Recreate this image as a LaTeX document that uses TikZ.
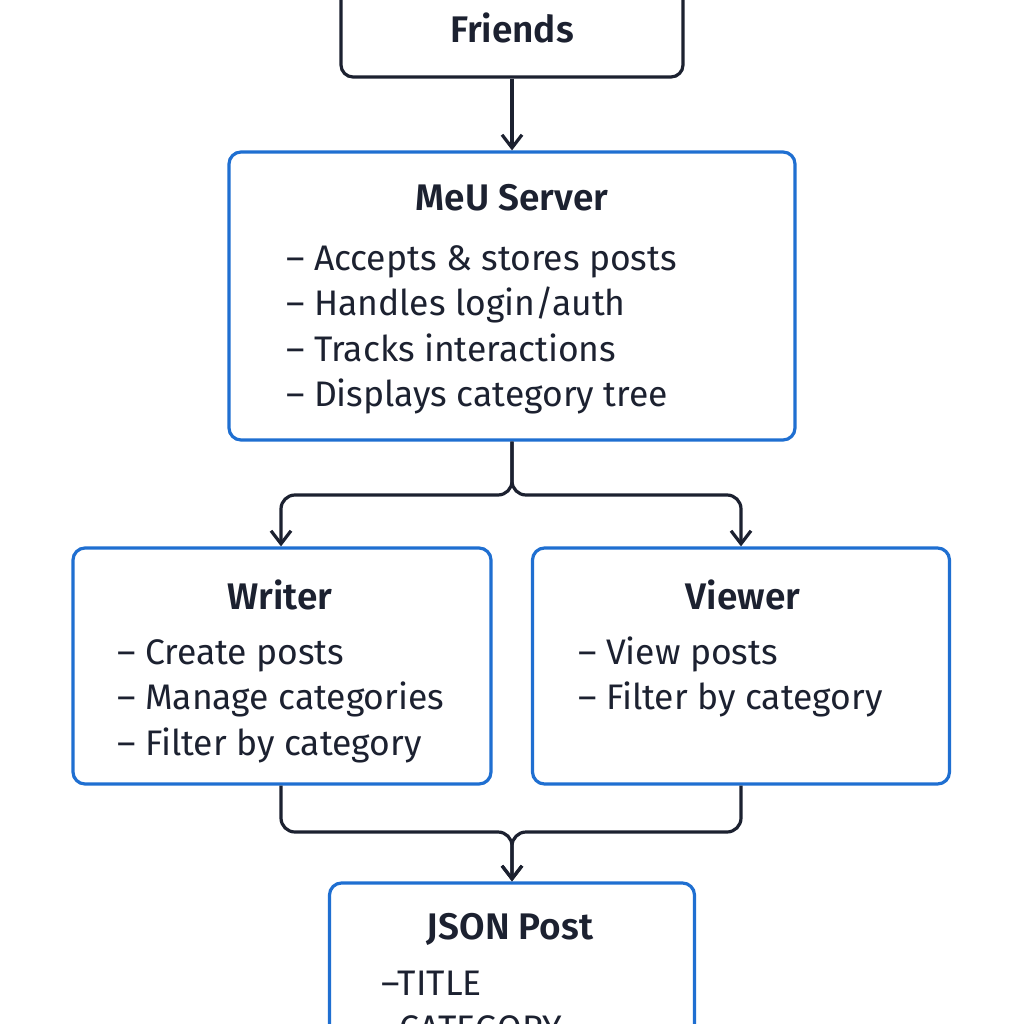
\documentclass[tikz,border=0pt]{standalone}
\usepackage{fontspec}
\setmainfont{Fira Sans}[BoldFont={* SemiBold}]
\usetikzlibrary{arrows.meta,positioning}
\definecolor{boxblue}{HTML}{1F6FD1}
\definecolor{ink}{HTML}{1C2130}
\tikzstyle{line} = [draw=ink, line width=3.2pt, rounded corners=14pt, -{Straight Barb[length=13pt,width=20pt,line width=3.2pt]}]
\tikzstyle{block} = [draw=boxblue, line width=3.2pt, rectangle, rounded corners=12pt, fill=white]
\tikzstyle{plain} = [draw=ink, line width=3.2pt, rectangle, rounded corners=12pt, fill=white]
\tikzstyle{title} = [text=ink, font=\fontsize{37}{42}\selectfont\bfseries, inner sep=0pt]
\tikzstyle{items} = [text=ink, font=\fontsize{35.5}{45.5}\selectfont, align=left, inner sep=0pt, anchor=north west]

\begin{document}
\begin{tikzpicture}[x=1pt, y=-1pt]
        \useasboundingbox[fill=white] (0,0) rectangle (1024,1024);
        \node[plain, minimum width=342pt, minimum height=120pt] (friends) at (512,17) {};
        \node[title] (friendst) at (512,28) {Friends};
        \node[block, minimum width=566pt, minimum height=288pt] (meu) at (512,296) {};
        \node[title] (meut) at (512,198) {MeU Server};
        \node[items] (meul) at (286,238) {\strut– Accepts \& stores posts\\– Handles login/auth\\– Tracks interactions\\– Displays category tree};
        \node[block, minimum width=418pt, minimum height=236pt] (writer) at (282,666) {};
        \node[title] (writert) at (280,595) {Writer};
        \node[items] (writerl) at (117,632) {\strut– Create posts\\– Manage categories\\– Filter by category};
        \node[block, minimum width=417pt, minimum height=236pt] (viewer) at (741,666) {};
        \node[title] (viewert) at (743,595) {Viewer};
        \node[items] (viewerl) at (578,632) {\strut– View posts\\– Filter by category};
        \node[block, minimum width=365pt, minimum height=200pt] (json) at (512,983) {};
        \node[title] (jsont) at (510,929) {JSON Post};
        \node[items] (jsonl) at (381,963) {\strut–TITLE\\–CATEGORY};
        \coordinate (fork) at (512,495);
        \coordinate (join) at (512,832);
        \path[line] (friends.south) -- (meu.north);
        \path[line] (meu.south) -- (fork) -| ([xshift=-1pt]writer.north);
        \path[line] (meu.south) -- (fork) -| (viewer.north);
        \path[line] ([xshift=-1pt]writer.south) |- (join) -- (json.north);
        \path[line] (viewer.south) |- (join) -- (json.north);
    \end{tikzpicture}
\end{document}
